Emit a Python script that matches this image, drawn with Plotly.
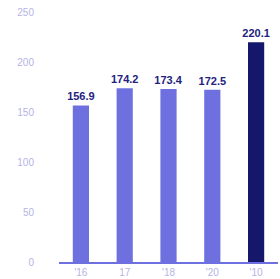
import plotly.graph_objects as go

categories = ["'16", "17", "'18", "'20", "'10"]
values = [156.9, 174.2, 173.4, 172.5, 220.1]
value_labels = ["156.9", "174.2", "173.4", "172.5", "220.1"]
bar_colors = ["#6e70e0", "#6e70e0", "#6e70e0", "#6e70e0", "#15186a"]
y_ticks = [0, 50, 100, 150, 200, 250]

fig = go.Figure(go.Bar(
    x=categories, y=values,
    marker=dict(color=bar_colors, line=dict(width=0)),
    text=value_labels, textposition="outside", cliponaxis=False,
    constraintext="none",
    textfont=dict(family="Liberation Sans", size=11, color="#22227e", weight="bold"),
))
fig.update_layout(
    width=280, height=279,
    margin=dict(l=59, r=2, t=12, b=17, autoexpand=False),
    paper_bgcolor="white", plot_bgcolor="white",
    bargap=0.63, showlegend=False,
    font=dict(family="Liberation Sans"),
)
fig.update_yaxes(range=[0, 250.5], tickvals=y_ticks, showgrid=False, zeroline=False,
                 showline=False, ticks="", ticklabelstandoff=24, automargin=False,
                 ticklabeloverflow="allow",
                 tickfont=dict(size=10, color="#b4b4e4"))
fig.update_xaxes(showline=True, linecolor="#6e70e0", linewidth=2, ticks="",
                 automargin=False, ticklabeloverflow="allow",
                 tickfont=dict(size=10, color="#b4b4e4"), ticklabelstandoff=0)
fig.write_html("out.html", config={"displayModeBar": False},
               post_script="document.body.style.margin='0';")
